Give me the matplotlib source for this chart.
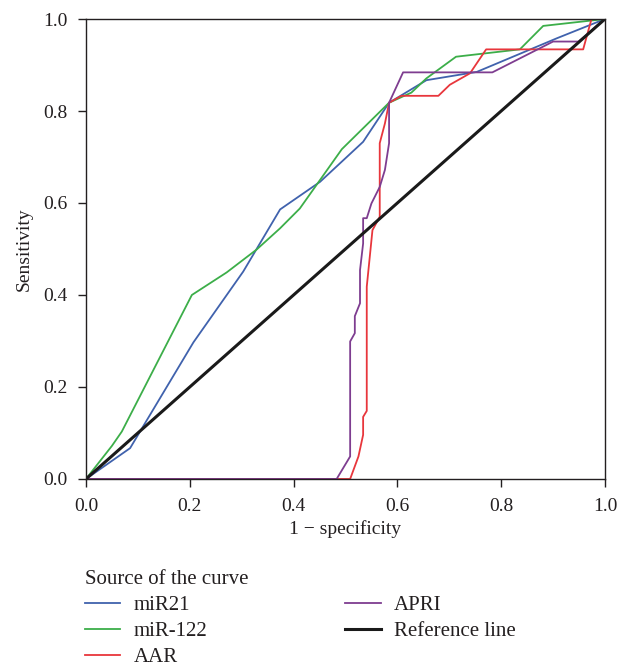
import matplotlib
matplotlib.use('Agg')
import matplotlib.pyplot as plt

plt.rcParams['font.family'] = ['Liberation Serif', 'DejaVu Serif']

# ROC points (1 - specificity, sensitivity)
mir21_x = [0.0, 0.085, 0.207, 0.303, 0.374, 0.451, 0.534, 0.584, 0.656, 0.753, 0.907, 1.0]
mir21_y = [0.0, 0.067, 0.297, 0.451, 0.586, 0.646, 0.733, 0.818, 0.867, 0.885, 0.958, 1.0]

mir122_x = [0.0, 0.050, 0.069, 0.204, 0.271, 0.329, 0.374, 0.412, 0.493, 0.584, 0.627, 0.656, 0.713, 0.836, 0.881, 1.0]
mir122_y = [0.0, 0.072, 0.103, 0.400, 0.449, 0.499, 0.545, 0.588, 0.717, 0.818, 0.840, 0.871, 0.918, 0.934, 0.985, 1.0]

aar_x = [0.0, 0.509, 0.525, 0.534, 0.534, 0.541, 0.541, 0.552, 0.566, 0.566, 0.576, 0.584, 0.608, 0.679, 0.701, 0.740, 0.771, 0.958, 0.974, 1.0]
aar_y = [0.0, 0.0, 0.049, 0.096, 0.135, 0.148, 0.418, 0.541, 0.570, 0.730, 0.773, 0.818, 0.833, 0.833, 0.857, 0.882, 0.934, 0.934, 1.0, 1.0]

apri_x = [0.0, 0.483, 0.509, 0.509, 0.518, 0.518, 0.528, 0.528, 0.534, 0.534, 0.541, 0.550, 0.566, 0.576, 0.584, 0.584, 0.611, 0.783, 0.900, 0.949, 1.0]
apri_y = [0.0, 0.0, 0.049, 0.299, 0.317, 0.354, 0.382, 0.454, 0.512, 0.567, 0.567, 0.599, 0.635, 0.672, 0.730, 0.818, 0.884, 0.884, 0.951, 0.951, 1.0]

ref_x = [0.0, 1.0]
ref_y = [0.0, 1.0]

ticks = [0.0, 0.2, 0.4, 0.6, 0.8, 1.0]

fig = plt.figure(figsize=(6.29, 6.67), dpi=100)
ax = fig.add_axes([0.1367, 0.2819, 0.8251, 0.6896])

ax.plot(mir21_x, mir21_y, color='#4062ad', lw=1.3, label='miR21')
ax.plot(mir122_x, mir122_y, color='#3cae49', lw=1.3, label='miR-122')
ax.plot(aar_x, aar_y, color='#e8363c', lw=1.3, label='AAR')
ax.plot(apri_x, apri_y, color='#7e3d90', lw=1.3, label='APRI')
ax.plot(ref_x, ref_y, color='#1a1a1a', lw=2.2, label='Reference line')

ax.set_xlim(0, 1)
ax.set_ylim(0, 1)
ax.set_xticks(ticks)
ax.set_yticks(ticks)
ax.set_xticklabels([f'{t:.1f}' for t in ticks])
ax.set_yticklabels([f'{t:.1f}' for t in ticks])
ax.tick_params(direction='out', length=5.5, width=1, labelsize=14, colors='#231f20')
ax.tick_params(axis='x', pad=8)
ax.tick_params(axis='y', pad=8)
for s in ax.spines.values():
  s.set_linewidth(1.0)
  s.set_color('#231f20')

ax.set_xlabel('1 − specificity', fontsize=14, color='#231f20', labelpad=4)
ax.set_ylabel('Sensitivity', fontsize=14, color='#231f20', labelpad=7)

leg = fig.legend(loc='upper left', bbox_to_anchor=(0.135, 0.146), ncol=2,
                 title='Source of the curve', title_fontsize=15, fontsize=15,
                 frameon=False, handlelength=1.7, handletextpad=0.65,
                 columnspacing=6.6, labelspacing=0.32, alignment='left',
                 borderaxespad=0, borderpad=0)
for t in leg.get_texts():
  t.set_color('#231f20')
leg.get_title().set_color('#231f20')

fig.savefig('out.png', dpi=100)
